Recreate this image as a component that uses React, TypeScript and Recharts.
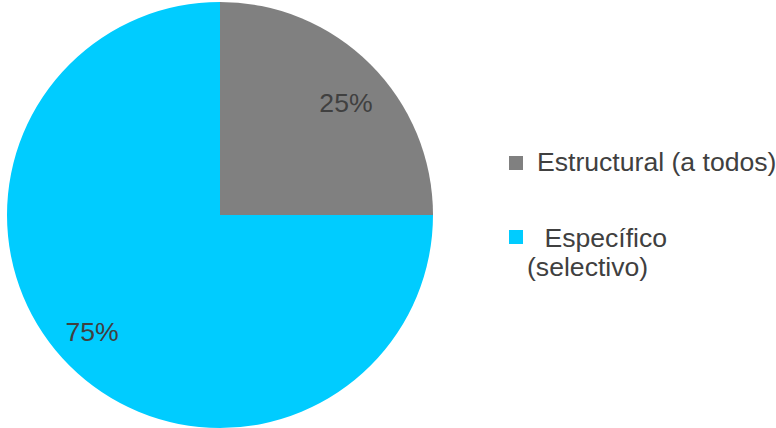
import React from "react";
import { Cell, Legend, Pie, PieChart } from "recharts";

const categories = ["Estructural (a todos)", "Específico (selectivo)"];
const shares = [25, 75];
const sliceColors = ["#808080", "#00CCFF"];

const data = categories.map((name, i) => ({ name, value: shares[i] }));

const FONT = '"Liberation Sans", Arial, sans-serif';
const TEXT = "#404040";
const SIZE = 26.6;
const RAD = Math.PI / 180;

// small nudges so the percent labels sit where the original puts them
const labelNudge = [
	{ dx: 7, dy: 7 },
	{ dx: -9, dy: -2 },
];

function renderLabel(props: any) {
	const { cx, cy, midAngle, outerRadius, index, value } = props;
	const r = outerRadius * 0.79;
	const x = cx + r * Math.cos(-midAngle * RAD) + labelNudge[index].dx;
	const y = cy + r * Math.sin(-midAngle * RAD) + labelNudge[index].dy;
	return (
		<text
			x={x}
			y={y}
			fill={TEXT}
			textAnchor="middle"
			dominantBaseline="central"
			style={{ fontFamily: FONT, fontSize: SIZE }}
		>
			{`${value}%`}
		</text>
	);
}

function LegendBox() {
	const text: React.CSSProperties = {
		position: "absolute",
		fontFamily: FONT,
		fontSize: SIZE,
		lineHeight: "29px",
		color: TEXT,
		whiteSpace: "pre",
	};
	const swatch = (color: string, top: number): React.CSSProperties => ({
		position: "absolute",
		left: 0,
		top,
		width: 14,
		height: 14,
		background: color,
	});
	return (
		<div style={{ position: "relative", width: 267, height: 160 }}>
			<div style={swatch(sliceColors[0], 16)} />
			<div style={{ ...text, left: 28, top: 8 }}>{"Estructural (a todos)"}</div>
			<div style={swatch(sliceColors[1], 90)} />
			<div style={{ ...text, left: 28, top: 84 }}>{" Específico"}</div>
			<div style={{ ...text, left: 18, top: 113 }}>{"(selectivo)"}</div>
		</div>
	);
}

export default function App() {
	return (
		<div style={{ width: 776, height: 428, background: "#fff" }}>
			<style>{"body{margin:0}"}</style>
			<PieChart width={776} height={428} margin={{ top: 0, right: 0, bottom: 0, left: 0 }}>
				<Pie
					data={data}
					dataKey="value"
					nameKey="name"
					cx={220}
					cy={215}
					outerRadius={213}
					startAngle={90}
					endAngle={-270}
					stroke="none"
					label={renderLabel}
					labelLine={false}
					isAnimationActive={false}
				>
					{data.map((d, i) => (
						<Cell key={d.name} fill={sliceColors[i]} />
					))}
				</Pie>
				<Legend
					content={() => <LegendBox />}
					wrapperStyle={{ left: 509, top: 140, width: 267, height: 160 }}
				/>
			</PieChart>
		</div>
	);
}
